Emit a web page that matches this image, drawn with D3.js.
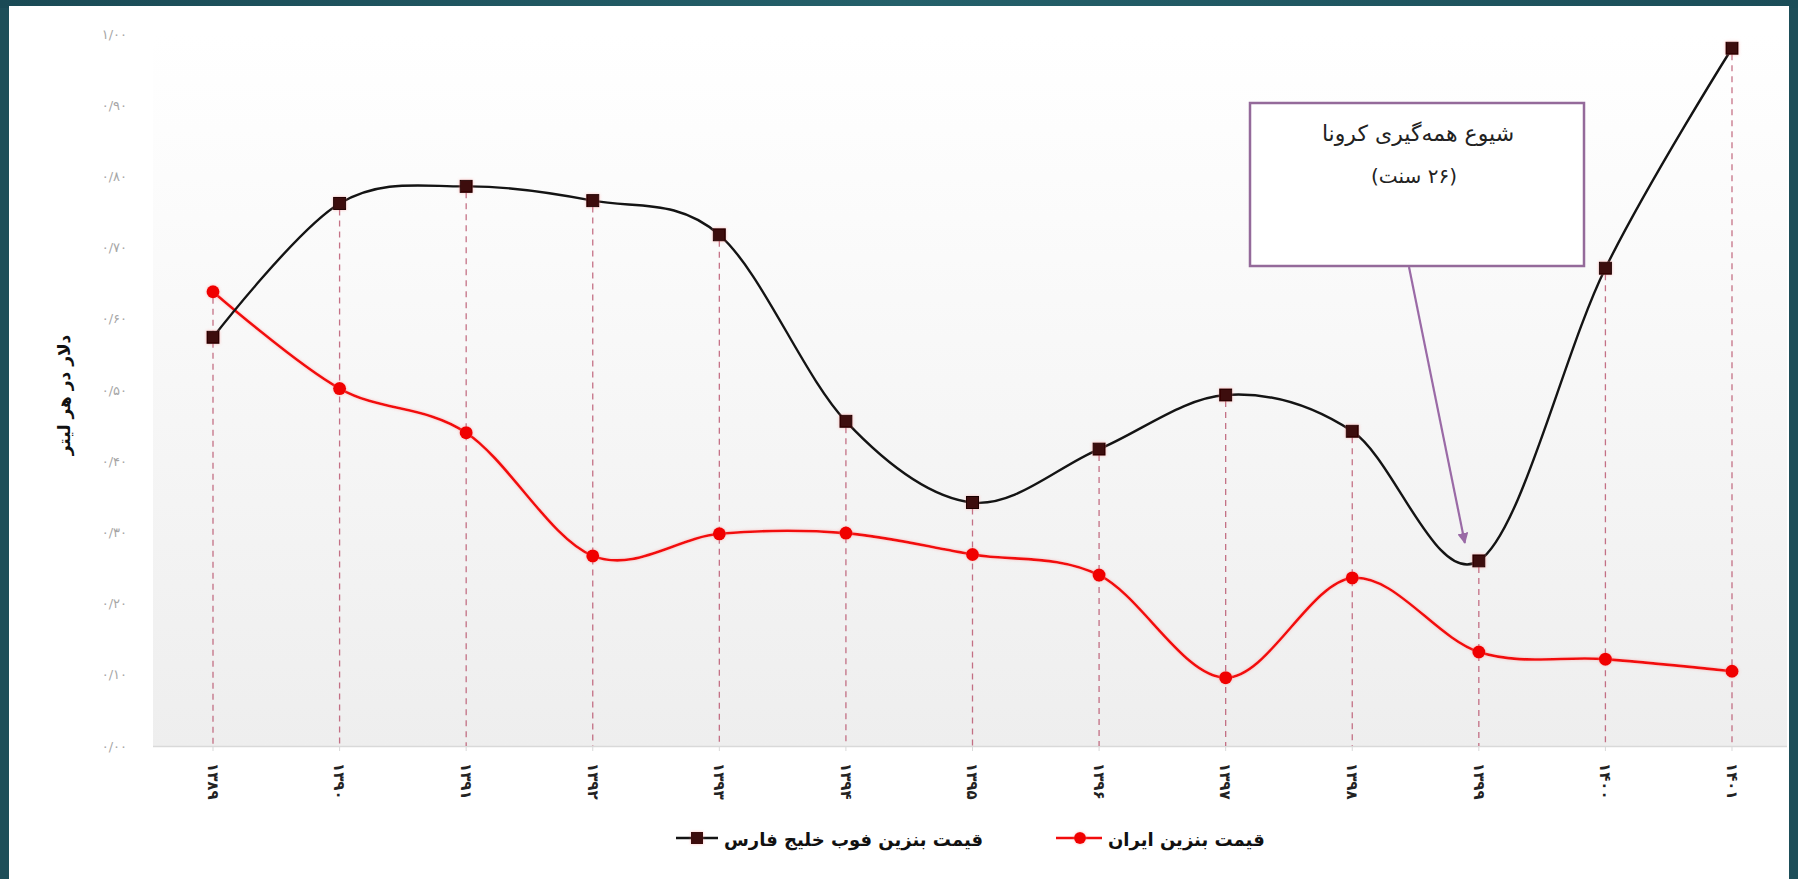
<!DOCTYPE html>
<html>
<head>
<meta charset="utf-8">
<script src="https://cdn.jsdelivr.net/npm/d3@7/dist/d3.min.js"></script>
<style>
  html, body { margin: 0; padding: 0; background: #1d4e59; }
  svg { display: block; }
</style>
</head>
<body>
<svg id="chart" width="1798" height="879"></svg>
<script>
// ---- data ----
const years = ["۱۳۸۹","۱۳۹۰","۱۳۹۱","۱۳۹۲","۱۳۹۳","۱۳۹۴","۱۳۹۵","۱۳۹۶","۱۳۹۷","۱۳۹۸","۱۳۹۹","۱۴۰۰","۱۴۰۱"];
const gulfPrice = [0.574, 0.762, 0.786, 0.766, 0.718, 0.456, 0.342, 0.417, 0.493, 0.442, 0.26, 0.671, 0.98];
const iranPrice = [0.638, 0.502, 0.44, 0.267, 0.298, 0.299, 0.269, 0.24, 0.096, 0.236, 0.132, 0.122, 0.105];
const yTicks = [0, 0.1, 0.2, 0.3, 0.4, 0.5, 0.6, 0.7, 0.8, 0.9, 1.0];
const yTickLabels = ["۰/۰۰","۰/۱۰","۰/۲۰","۰/۳۰","۰/۴۰","۰/۵۰","۰/۶۰","۰/۷۰","۰/۸۰","۰/۹۰","۱/۰۰"];
const seriesNames = ["قیمت بنزین فوب خلیج فارس", "قیمت بنزین ایران"];
const yTitle = "دلار در هر لیتر";
const noteLines = ["شیوع همه‌گیری کرونا", "(۲۶ سنت)"];
const noteYear = "۱۳۹۹";

const svg = d3.select("#chart");
const FONT = "'DejaVu Sans', sans-serif";

// background frame
const defs = svg.append("defs");
const tg = defs.append("linearGradient").attr("id","topband").attr("x1","0").attr("x2","1");
tg.append("stop").attr("offset","0").attr("stop-color","#1a4a55");
tg.append("stop").attr("offset","0.5").attr("stop-color","#24606a");
tg.append("stop").attr("offset","1").attr("stop-color","#1b4d58");
svg.append("rect").attr("x",0).attr("y",0).attr("width",1798).attr("height",879).attr("fill","#1d4e59");
svg.append("rect").attr("x",0).attr("y",0).attr("width",1798).attr("height",8).attr("fill","url(#topband)");
svg.append("rect").attr("x",9).attr("y",6).attr("width",1780).attr("height",873).attr("fill","#ffffff");

const x = d3.scalePoint().domain(years).range([213, 1732]);
const y = d3.scaleLinear().domain([0, 1]).range([746, 34]);

// plot area gradient
const pg = defs.append("linearGradient").attr("id","plotbg").attr("x1","0").attr("x2","0").attr("y1","0").attr("y2","1");
pg.append("stop").attr("offset","0").attr("stop-color","#ffffff");
pg.append("stop").attr("offset","0.2").attr("stop-color","#fcfcfc");
pg.append("stop").attr("offset","1").attr("stop-color","#eeeeee");
svg.append("rect").attr("x",153).attr("y",y(1)).attr("width",1787-153).attr("height",y(0)-y(1)).attr("fill","url(#plotbg)");

// glow filter
const f = defs.append("filter").attr("id","glow").attr("x","-50%").attr("y","-50%").attr("width","200%").attr("height","200%");
f.append("feGaussianBlur").attr("in","SourceAlpha").attr("stdDeviation",1.5).attr("result","b");
f.append("feFlood").attr("flood-color","#ff8080").attr("flood-opacity",0.5);
f.append("feComposite").attr("in2","b").attr("operator","in").attr("result","g");
const fm = f.append("feMerge");
fm.append("feMergeNode").attr("in","g");
fm.append("feMergeNode").attr("in","SourceGraphic");

// x axis line and ticks
svg.append("line").attr("x1",153).attr("x2",1787).attr("y1",y(0)+0.5).attr("y2",y(0)+0.5)
  .attr("stroke","#d9d9d9").attr("stroke-width",1.5);
svg.append("g").selectAll("line").data(years).join("line")
  .attr("x1",d=>x(d)).attr("x2",d=>x(d)).attr("y1",y(0)).attr("y2",y(0)+5)
  .attr("stroke","#d9d9d9").attr("stroke-width",1);

// y tick labels
svg.append("g").selectAll("text").data(yTicks).join("text")
  .attr("x",127).attr("y",d=>y(d)).attr("dy","0.35em")
  .attr("text-anchor","end").attr("font-family",FONT).attr("font-size",13)
  .attr("fill","#a6a6a6").text((d,i)=>yTickLabels[i]);

// y title
svg.append("text").attr("transform",`translate(64,${395}) rotate(-90)`)
  .attr("text-anchor","middle").attr("dy","0.35em").attr("font-family",FONT)
  .attr("font-weight","bold").attr("font-size",17).attr("fill","#111").text(yTitle);

// x labels
svg.append("g").selectAll("text").data(years).join("text")
  .attr("transform",d=>`translate(${x(d)},763) rotate(90)`)
  .attr("text-anchor","start").attr("dy","0.35em").attr("font-family",FONT)
  .attr("font-weight","bold").attr("font-size",15).attr("fill","#222").text(d=>d);

// drop lines
svg.append("g").selectAll("line").data(years).join("line")
  .attr("x1",d=>x(d)).attr("x2",d=>x(d))
  .attr("y1",(d,i)=>y(Math.max(gulfPrice[i], iranPrice[i]))+6).attr("y2",y(0))
  .attr("stroke","#b8506a").attr("stroke-width",1.3).attr("stroke-dasharray","6,5").attr("opacity",0.8);

const curve = d3.curveCatmullRom.alpha(0);
const lineGen = d3.line().x((d,i)=>x(years[i])).y(d=>y(d)).curve(curve);

svg.append("path").attr("d",lineGen(iranPrice)).attr("fill","none")
  .attr("stroke","#f20c0c").attr("stroke-width",2.6).attr("filter","url(#glow)");
svg.append("path").attr("d",lineGen(gulfPrice)).attr("fill","none")
  .attr("stroke","#141414").attr("stroke-width",2.4);

svg.append("g").selectAll("circle").data(iranPrice).join("circle")
  .attr("cx",(d,i)=>x(years[i])).attr("cy",d=>y(d)).attr("r",6.5)
  .attr("fill","#f00000").attr("filter","url(#glow)");
svg.append("g").selectAll("rect").data(gulfPrice).join("rect")
  .attr("x",(d,i)=>x(years[i])-6).attr("y",d=>y(d)-6).attr("width",12).attr("height",12)
  .attr("fill","#3d0808").attr("stroke","#1a0000").attr("stroke-width",1).attr("filter","url(#glow)");

// annotation
const ni = years.indexOf(noteYear);
const ax = x(noteYear), ay = y(gulfPrice[ni]);
svg.append("rect").attr("x",1250).attr("y",103).attr("width",334).attr("height",163)
  .attr("fill","#ffffff").attr("stroke","#946a9a").attr("stroke-width",2.5);
svg.append("text").attr("x",1418).attr("y",141).attr("text-anchor","middle").attr("direction","rtl")
  .attr("font-family",FONT).attr("font-size",22).attr("fill","#222").text(noteLines[0]);
svg.append("text").attr("x",1414).attr("y",183).attr("text-anchor","middle").attr("direction","rtl")
  .attr("font-family",FONT).attr("font-size",20).attr("fill","#222").text(noteLines[1]);

defs.append("marker").attr("id","arr").attr("viewBox","0 0 10 10").attr("refX",9).attr("refY",5)
  .attr("markerWidth",5).attr("markerHeight",5).attr("orient","auto")
  .append("path").attr("d","M0,0 L10,5 L0,10 z").attr("fill","#9a6aa6");
svg.append("line").attr("x1",1409).attr("y1",267).attr("x2",ax-14).attr("y2",ay-18)
  .attr("stroke","#9a6aa6").attr("stroke-width",2.2).attr("marker-end","url(#arr)");

// legend
const lg = svg.append("g");
lg.append("line").attr("x1",676).attr("x2",718).attr("y1",838).attr("y2",838).attr("stroke","#141414").attr("stroke-width",2.4);
lg.append("rect").attr("x",691).attr("y",832).attr("width",12).attr("height",12).attr("fill","#3d0808").attr("filter","url(#glow)");
lg.append("text").attr("x",724).attr("y",846).attr("font-family",FONT).attr("font-weight","bold")
  .attr("font-size",18).attr("fill","#111").text(seriesNames[0]);
lg.append("line").attr("x1",1056).attr("x2",1102).attr("y1",838).attr("y2",838).attr("stroke","#f20c0c").attr("stroke-width",2.6);
lg.append("circle").attr("cx",1080).attr("cy",838).attr("r",6).attr("fill","#f00000").attr("filter","url(#glow)");
lg.append("text").attr("x",1108).attr("y",846).attr("font-family",FONT).attr("font-weight","bold")
  .attr("font-size",18).attr("fill","#111").text(seriesNames[1]);
</script>
</body>
</html>
